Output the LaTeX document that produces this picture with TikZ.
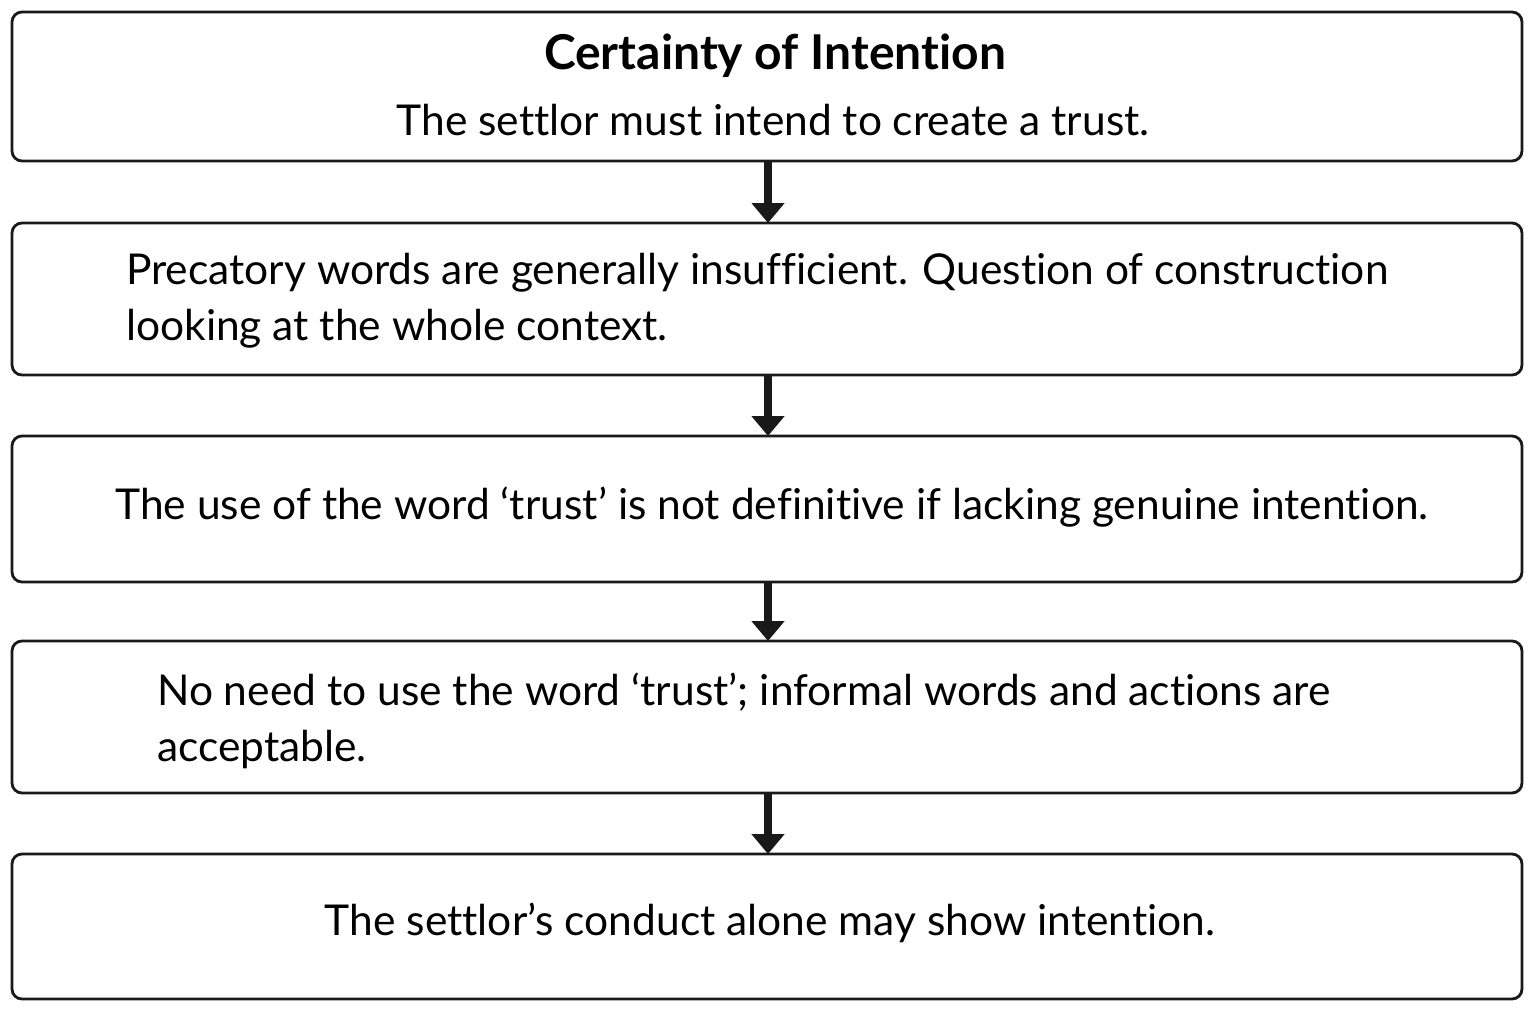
\documentclass[tikz,border=0pt]{standalone}
\usepackage{fontspec}
\setmainfont[Ligatures=NoCommon]{Lato}
\usetikzlibrary{arrows.meta}
\begin{document}
\begin{tikzpicture}[x=1pt,y=-1pt,
  box/.style={draw=black!90,line width=2.8pt,rounded corners=10pt},
  txt/.style={font=\fontsize{42.5}{57}\selectfont,inner sep=0pt},
  arr/.style={line width=8pt,-{Triangle[length=20pt,width=32pt]},black!90}]
\useasboundingbox (0,0) rectangle (1536,1018);
\path[box] (12,12) rectangle (1522,161); \coordinate (b1s) at (768,161);
\path[box] (12,223) rectangle (1522,375); \coordinate (b2n) at (768,223); \coordinate (b2s) at (768,375);
\path[box] (12,436) rectangle (1522,582); \coordinate (b3n) at (768,436); \coordinate (b3s) at (768,582);
\path[box] (12,641) rectangle (1522,793); \coordinate (b4n) at (768,641); \coordinate (b4s) at (768,793);
\path[box] (12,854) rectangle (1522,999); \coordinate (b5n) at (768,854);
\node[txt,font=\fontsize{48}{50}\bfseries] (t1) at (775,56) {Certainty of Intention};
\node[txt] (s1) at (773,120) {The settlor must intend to create a trust.};
\node[txt,anchor=west] (t2a) at (126,273) {Precatory words are generally insufficient. Question of construction};
\node[txt,anchor=west] (t2b) at (126,329) {looking at the whole context.};
\node[txt] (t3) at (772,507) {The use of the word ‘trust’ is not definitive if lacking genuine intention.};
\node[txt,anchor=west] (t4a) at (157,692) {No need to use the word ‘trust’; informal words and actions are};
\node[txt,anchor=west] (t4b) at (157,749) {acceptable.};
\node[txt] (t5) at (770,923) {The settlor’s conduct alone may show intention.};
\draw[arr] (b1s) -- (b2n);
\draw[arr] (b2s) -- (b3n);
\draw[arr] (b3s) -- (b4n);
\draw[arr] (b4s) -- (b5n);
\end{tikzpicture}
\end{document}
